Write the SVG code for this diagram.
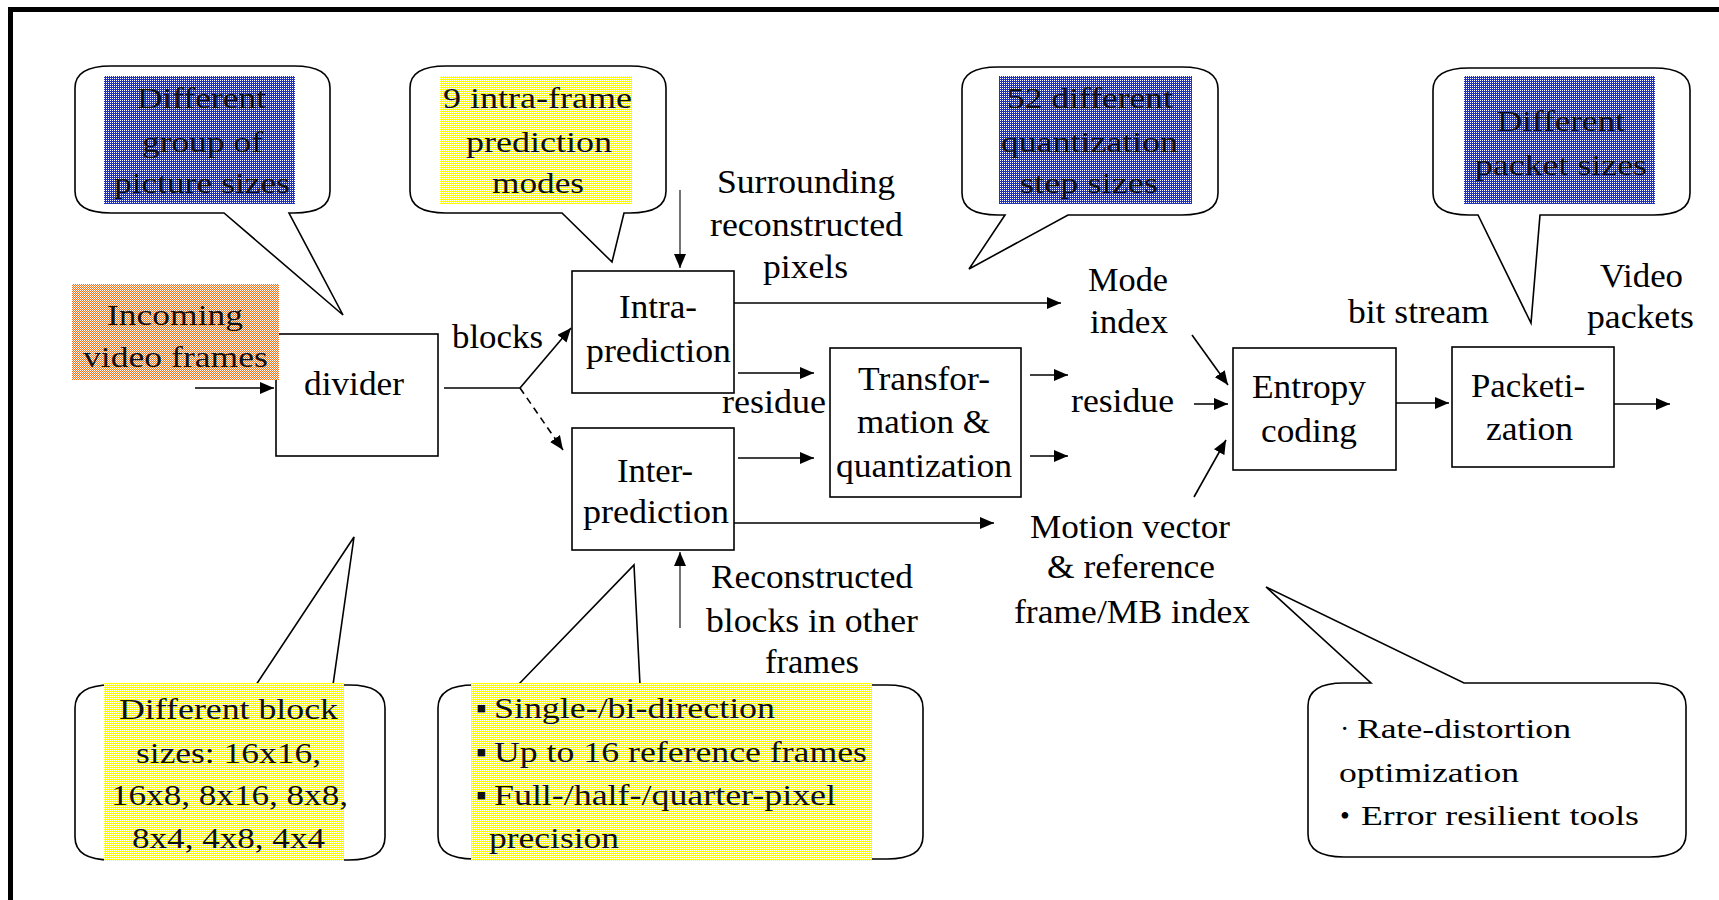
<svg xmlns="http://www.w3.org/2000/svg" width="1719" height="900" viewBox="0 0 1719 900">
  <defs>
    <style>
      text { font-family: "Liberation Serif", "Times New Roman", serif; fill: #000; }
      .lbl { font-size: 33px; }
      .co { font-size: 30px; fill: #111; }
      .co2 { font-size: 28px; }
      .box { fill: #fff; stroke: #000; stroke-width: 1.6; }
      .callout { fill: #fff; stroke: #000; stroke-width: 1.6; }
      .wire { fill: none; stroke: #000; stroke-width: 1.6; }
      .arrow { fill: none; stroke: #000; stroke-width: 1.6; marker-end: url(#head); }
      .thin { fill: none; stroke: #000; stroke-width: 1.1; marker-end: url(#head); }
      .dash { fill: none; stroke: #000; stroke-width: 1.6; stroke-dasharray: 7 5; marker-end: url(#head); }
    </style>
    <marker id="head" markerUnits="userSpaceOnUse" markerWidth="14" markerHeight="12" refX="14" refY="6" orient="auto">
      <path d="M0,0 L14,6 L0,12 Z" fill="#000"/>
    </marker>
    <!-- dithered fills behind the callout texts -->
    <pattern id="ditherBlue" width="2" height="2" patternUnits="userSpaceOnUse">
      <rect width="2" height="2" fill="#2233bb"/>
      <rect width="1" height="1" fill="#ffffff"/>
    </pattern>
    <pattern id="ditherYellow" width="2" height="2" patternUnits="userSpaceOnUse">
      <rect width="2" height="2" fill="#ffff00"/>
      <rect width="1" height="1" fill="#ffffff"/>
    </pattern>
    <pattern id="ditherOrange" width="2" height="2" patternUnits="userSpaceOnUse">
      <rect width="2" height="2" fill="#ff6a10"/>
      <rect width="1" height="1" fill="#ffffff"/>
      <rect x="1" y="1" width="1" height="1" fill="#ffffff"/>
    </pattern>
  </defs>

  <rect width="1719" height="900" fill="#fff"/>

  <!-- frame -->
  <g id="frame" stroke="#000" stroke-width="5" fill="none">
    <line x1="8" y1="9.5" x2="1719" y2="9.5"/>
    <line x1="10.5" y1="7" x2="10.5" y2="900"/>
  </g>

  <!-- processing blocks -->
  <g id="divider">
    <rect class="box" x="276" y="334" width="162" height="122"/>
    <text class="lbl" x="304" y="395" textLength="100" lengthAdjust="spacingAndGlyphs">divider</text>
  </g>

  <g id="input-label">
    <rect x="72" y="284" width="207" height="96" fill="url(#ditherOrange)"/>
    <text class="co" x="107" y="325" textLength="136" lengthAdjust="spacingAndGlyphs">Incoming</text>
    <text class="co" x="83" y="367" textLength="185" lengthAdjust="spacingAndGlyphs">video frames</text>
  </g>

  <g id="intra-prediction">
    <rect class="box" x="572" y="271" width="162" height="122"/>
    <text class="lbl" x="619" y="318" textLength="78" lengthAdjust="spacingAndGlyphs">Intra-</text>
    <text class="lbl" x="586" y="362" textLength="145" lengthAdjust="spacingAndGlyphs">prediction</text>
  </g>

  <g id="inter-prediction">
    <rect class="box" x="572" y="428" width="162" height="122"/>
    <text class="lbl" x="617" y="482" textLength="76" lengthAdjust="spacingAndGlyphs">Inter-</text>
    <text class="lbl" x="583" y="523" textLength="146" lengthAdjust="spacingAndGlyphs">prediction</text>
  </g>

  <g id="transform-quant">
    <rect class="box" x="830" y="348" width="191" height="149"/>
    <text class="lbl" x="858" y="390" textLength="132" lengthAdjust="spacingAndGlyphs">Transfor-</text>
    <text class="lbl" x="857" y="433" textLength="133" lengthAdjust="spacingAndGlyphs">mation &amp;</text>
    <text class="lbl" x="836" y="477" textLength="176" lengthAdjust="spacingAndGlyphs">quantization</text>
  </g>

  <g id="entropy-coding">
    <rect class="box" x="1233" y="348" width="163" height="122"/>
    <text class="lbl" x="1252" y="398" textLength="114" lengthAdjust="spacingAndGlyphs">Entropy</text>
    <text class="lbl" x="1261" y="442" textLength="96" lengthAdjust="spacingAndGlyphs">coding</text>
  </g>

  <g id="packetization">
    <rect class="box" x="1452" y="347" width="162" height="120"/>
    <text class="lbl" x="1471" y="397" textLength="114" lengthAdjust="spacingAndGlyphs">Packeti-</text>
    <text class="lbl" x="1486" y="440" textLength="87" lengthAdjust="spacingAndGlyphs">zation</text>
  </g>

  <!-- callouts -->
  <g id="callout-gop">
    <path class="callout" d="M111,66 H294 Q330,66 330,88 V191 Q330,213 294,213 H289 L343,315 L224,213 H111 Q75,213 75,191 V88 Q75,66 111,66 Z"/>
    <rect x="104" y="76" width="191" height="128" fill="url(#ditherBlue)"/>
    <text class="co" x="137" y="108" textLength="129" lengthAdjust="spacingAndGlyphs">Different</text>
    <text class="co" x="142" y="152" textLength="121" lengthAdjust="spacingAndGlyphs">group of</text>
    <text class="co" x="114" y="193" textLength="176" lengthAdjust="spacingAndGlyphs">picture sizes</text>
  </g>

  <g id="callout-intra-modes">
    <path class="callout" d="M446,66 H630 Q666,66 666,88 V191 Q666,213 630,213 H624 L612,262 L562,213 H446 Q410,213 410,191 V88 Q410,66 446,66 Z"/>
    <rect x="440" y="76" width="192" height="128" fill="url(#ditherYellow)"/>
    <text class="co" x="443" y="108" textLength="189" lengthAdjust="spacingAndGlyphs">9 intra-frame</text>
    <text class="co" x="466" y="152" textLength="146" lengthAdjust="spacingAndGlyphs">prediction</text>
    <text class="co" x="492" y="193" textLength="92" lengthAdjust="spacingAndGlyphs">modes</text>
  </g>

  <g id="callout-qstep">
    <path class="callout" d="M998,67 H1182 Q1218,67 1218,89 V193 Q1218,215 1182,215 H1068 L969,269 L1005,215 H998 Q962,215 962,193 V89 Q962,67 998,67 Z"/>
    <rect x="999" y="76" width="193" height="128" fill="url(#ditherBlue)"/>
    <text class="co" x="1007" y="108" textLength="166" lengthAdjust="spacingAndGlyphs">52 different</text>
    <text class="co" x="1001" y="152" textLength="177" lengthAdjust="spacingAndGlyphs">quantization</text>
    <text class="co" x="1020" y="193" textLength="138" lengthAdjust="spacingAndGlyphs">step sizes</text>
  </g>

  <g id="callout-packet">
    <path class="callout" d="M1469,68 H1654 Q1690,68 1690,90 V193 Q1690,215 1654,215 H1540 L1531,323 L1478,215 H1469 Q1433,215 1433,193 V90 Q1433,68 1469,68 Z"/>
    <rect x="1464" y="76" width="191" height="128" fill="url(#ditherBlue)"/>
    <text class="co" x="1497" y="131" textLength="128" lengthAdjust="spacingAndGlyphs">Different</text>
    <text class="co" x="1475" y="175" textLength="172" lengthAdjust="spacingAndGlyphs">packet sizes</text>
  </g>

  <g id="callout-block-sizes">
    <path class="callout" d="M111,685 H256 L354,537 L333,685 H349 Q385,685 385,708 V837 Q385,860 349,860 H111 Q75,860 75,837 V708 Q75,685 111,685 Z"/>
    <rect x="104" y="683" width="240" height="178" fill="url(#ditherYellow)"/>
    <text class="co" x="119" y="719" textLength="219" lengthAdjust="spacingAndGlyphs">Different block</text>
    <text class="co" x="136" y="763" textLength="185" lengthAdjust="spacingAndGlyphs">sizes: 16x16,</text>
    <text class="co" x="111" y="805" textLength="237" lengthAdjust="spacingAndGlyphs">16x8, 8x16, 8x8,</text>
    <text class="co" x="132" y="848" textLength="193" lengthAdjust="spacingAndGlyphs">8x4, 4x8, 4x4</text>
  </g>

  <g id="callout-inter-modes">
    <path class="callout" d="M474,685 H518 L634,565 L640,685 H887 Q923,685 923,708 V836 Q923,859 887,859 H474 Q438,859 438,836 V708 Q438,685 474,685 Z"/>
    <rect x="471" y="683" width="401" height="178" fill="url(#ditherYellow)"/>
    <text class="co"><tspan x="476" y="718">▪</tspan><tspan x="494" y="718" textLength="281" lengthAdjust="spacingAndGlyphs">Single-/bi-direction</tspan></text>
    <text class="co"><tspan x="476" y="762">▪</tspan><tspan x="494" y="762" textLength="373" lengthAdjust="spacingAndGlyphs">Up to 16 reference frames</tspan></text>
    <text class="co"><tspan x="476" y="805">▪</tspan><tspan x="494" y="805" textLength="342" lengthAdjust="spacingAndGlyphs">Full-/half-/quarter-pixel</tspan></text>
    <text class="co" x="489" y="848" textLength="130" lengthAdjust="spacingAndGlyphs">precision</text>
  </g>

  <g id="callout-rdo">
    <path class="callout" d="M1344,683 H1371 L1266,587 L1464,683 H1650 Q1686,683 1686,706 V834 Q1686,857 1650,857 H1344 Q1308,857 1308,834 V706 Q1308,683 1344,683 Z"/>
    <text class="co2"><tspan x="1340" y="738">·</tspan><tspan x="1357" y="738" textLength="214" lengthAdjust="spacingAndGlyphs">Rate-distortion</tspan></text>
    <text class="co2" x="1339" y="782" textLength="180" lengthAdjust="spacingAndGlyphs">optimization</text>
    <text class="co2"><tspan x="1340" y="825">•</tspan><tspan x="1361" y="825" textLength="278" lengthAdjust="spacingAndGlyphs">Error resilient tools</tspan></text>
  </g>

  <!-- connectors -->
  <g id="connectors">
    <path class="arrow" d="M195,388 H274"/>
    <path class="wire" d="M444,388 H520"/>
    <path class="arrow" d="M520,388 L571,328"/>
    <path class="dash" d="M520,388 L563,450"/>
    <path class="thin" d="M680,190 V268"/>
    <path class="thin" d="M680,628 V552"/>
    <path class="arrow" d="M734,303 H1061"/>
    <path class="arrow" d="M738,373 H814"/>
    <path class="arrow" d="M738,458 H814"/>
    <path class="arrow" d="M734,523 H994"/>
    <path class="arrow" d="M1030,375 H1068"/>
    <path class="arrow" d="M1030,456 H1068"/>
    <path class="arrow" d="M1192,335 L1228,385"/>
    <path class="arrow" d="M1194,404 H1228"/>
    <path class="arrow" d="M1194,497 L1226,440"/>
    <path class="arrow" d="M1396,403 H1449"/>
    <path class="arrow" d="M1614,404 H1670"/>
  </g>

  <!-- connector labels -->
  <g id="labels">
    <text class="lbl" x="452" y="348" textLength="91" lengthAdjust="spacingAndGlyphs">blocks</text>
    <text class="lbl" x="717" y="193" textLength="178" lengthAdjust="spacingAndGlyphs">Surrounding</text>
    <text class="lbl" x="710" y="236" textLength="193" lengthAdjust="spacingAndGlyphs">reconstructed</text>
    <text class="lbl" x="763" y="278" textLength="85" lengthAdjust="spacingAndGlyphs">pixels</text>
    <text class="lbl" x="722" y="413" textLength="104" lengthAdjust="spacingAndGlyphs">residue</text>
    <text class="lbl" x="1088" y="291" textLength="80" lengthAdjust="spacingAndGlyphs">Mode</text>
    <text class="lbl" x="1090" y="333" textLength="78" lengthAdjust="spacingAndGlyphs">index</text>
    <text class="lbl" x="1071" y="412" textLength="103" lengthAdjust="spacingAndGlyphs">residue</text>
    <text class="lbl" x="1348" y="323" textLength="141" lengthAdjust="spacingAndGlyphs">bit stream</text>
    <text class="lbl" x="1600" y="287" textLength="83" lengthAdjust="spacingAndGlyphs">Video</text>
    <text class="lbl" x="1587" y="328" textLength="107" lengthAdjust="spacingAndGlyphs">packets</text>
    <text class="lbl" x="711" y="588" textLength="202" lengthAdjust="spacingAndGlyphs">Reconstructed</text>
    <text class="lbl" x="706" y="632" textLength="212" lengthAdjust="spacingAndGlyphs">blocks in other</text>
    <text class="lbl" x="765" y="673" textLength="94" lengthAdjust="spacingAndGlyphs">frames</text>
    <text class="lbl" x="1030" y="538" textLength="200" lengthAdjust="spacingAndGlyphs">Motion vector</text>
    <text class="lbl" x="1047" y="578" textLength="168" lengthAdjust="spacingAndGlyphs">&amp; reference</text>
    <text class="lbl" x="1014" y="623" textLength="236" lengthAdjust="spacingAndGlyphs">frame/MB index</text>
  </g>
</svg>
